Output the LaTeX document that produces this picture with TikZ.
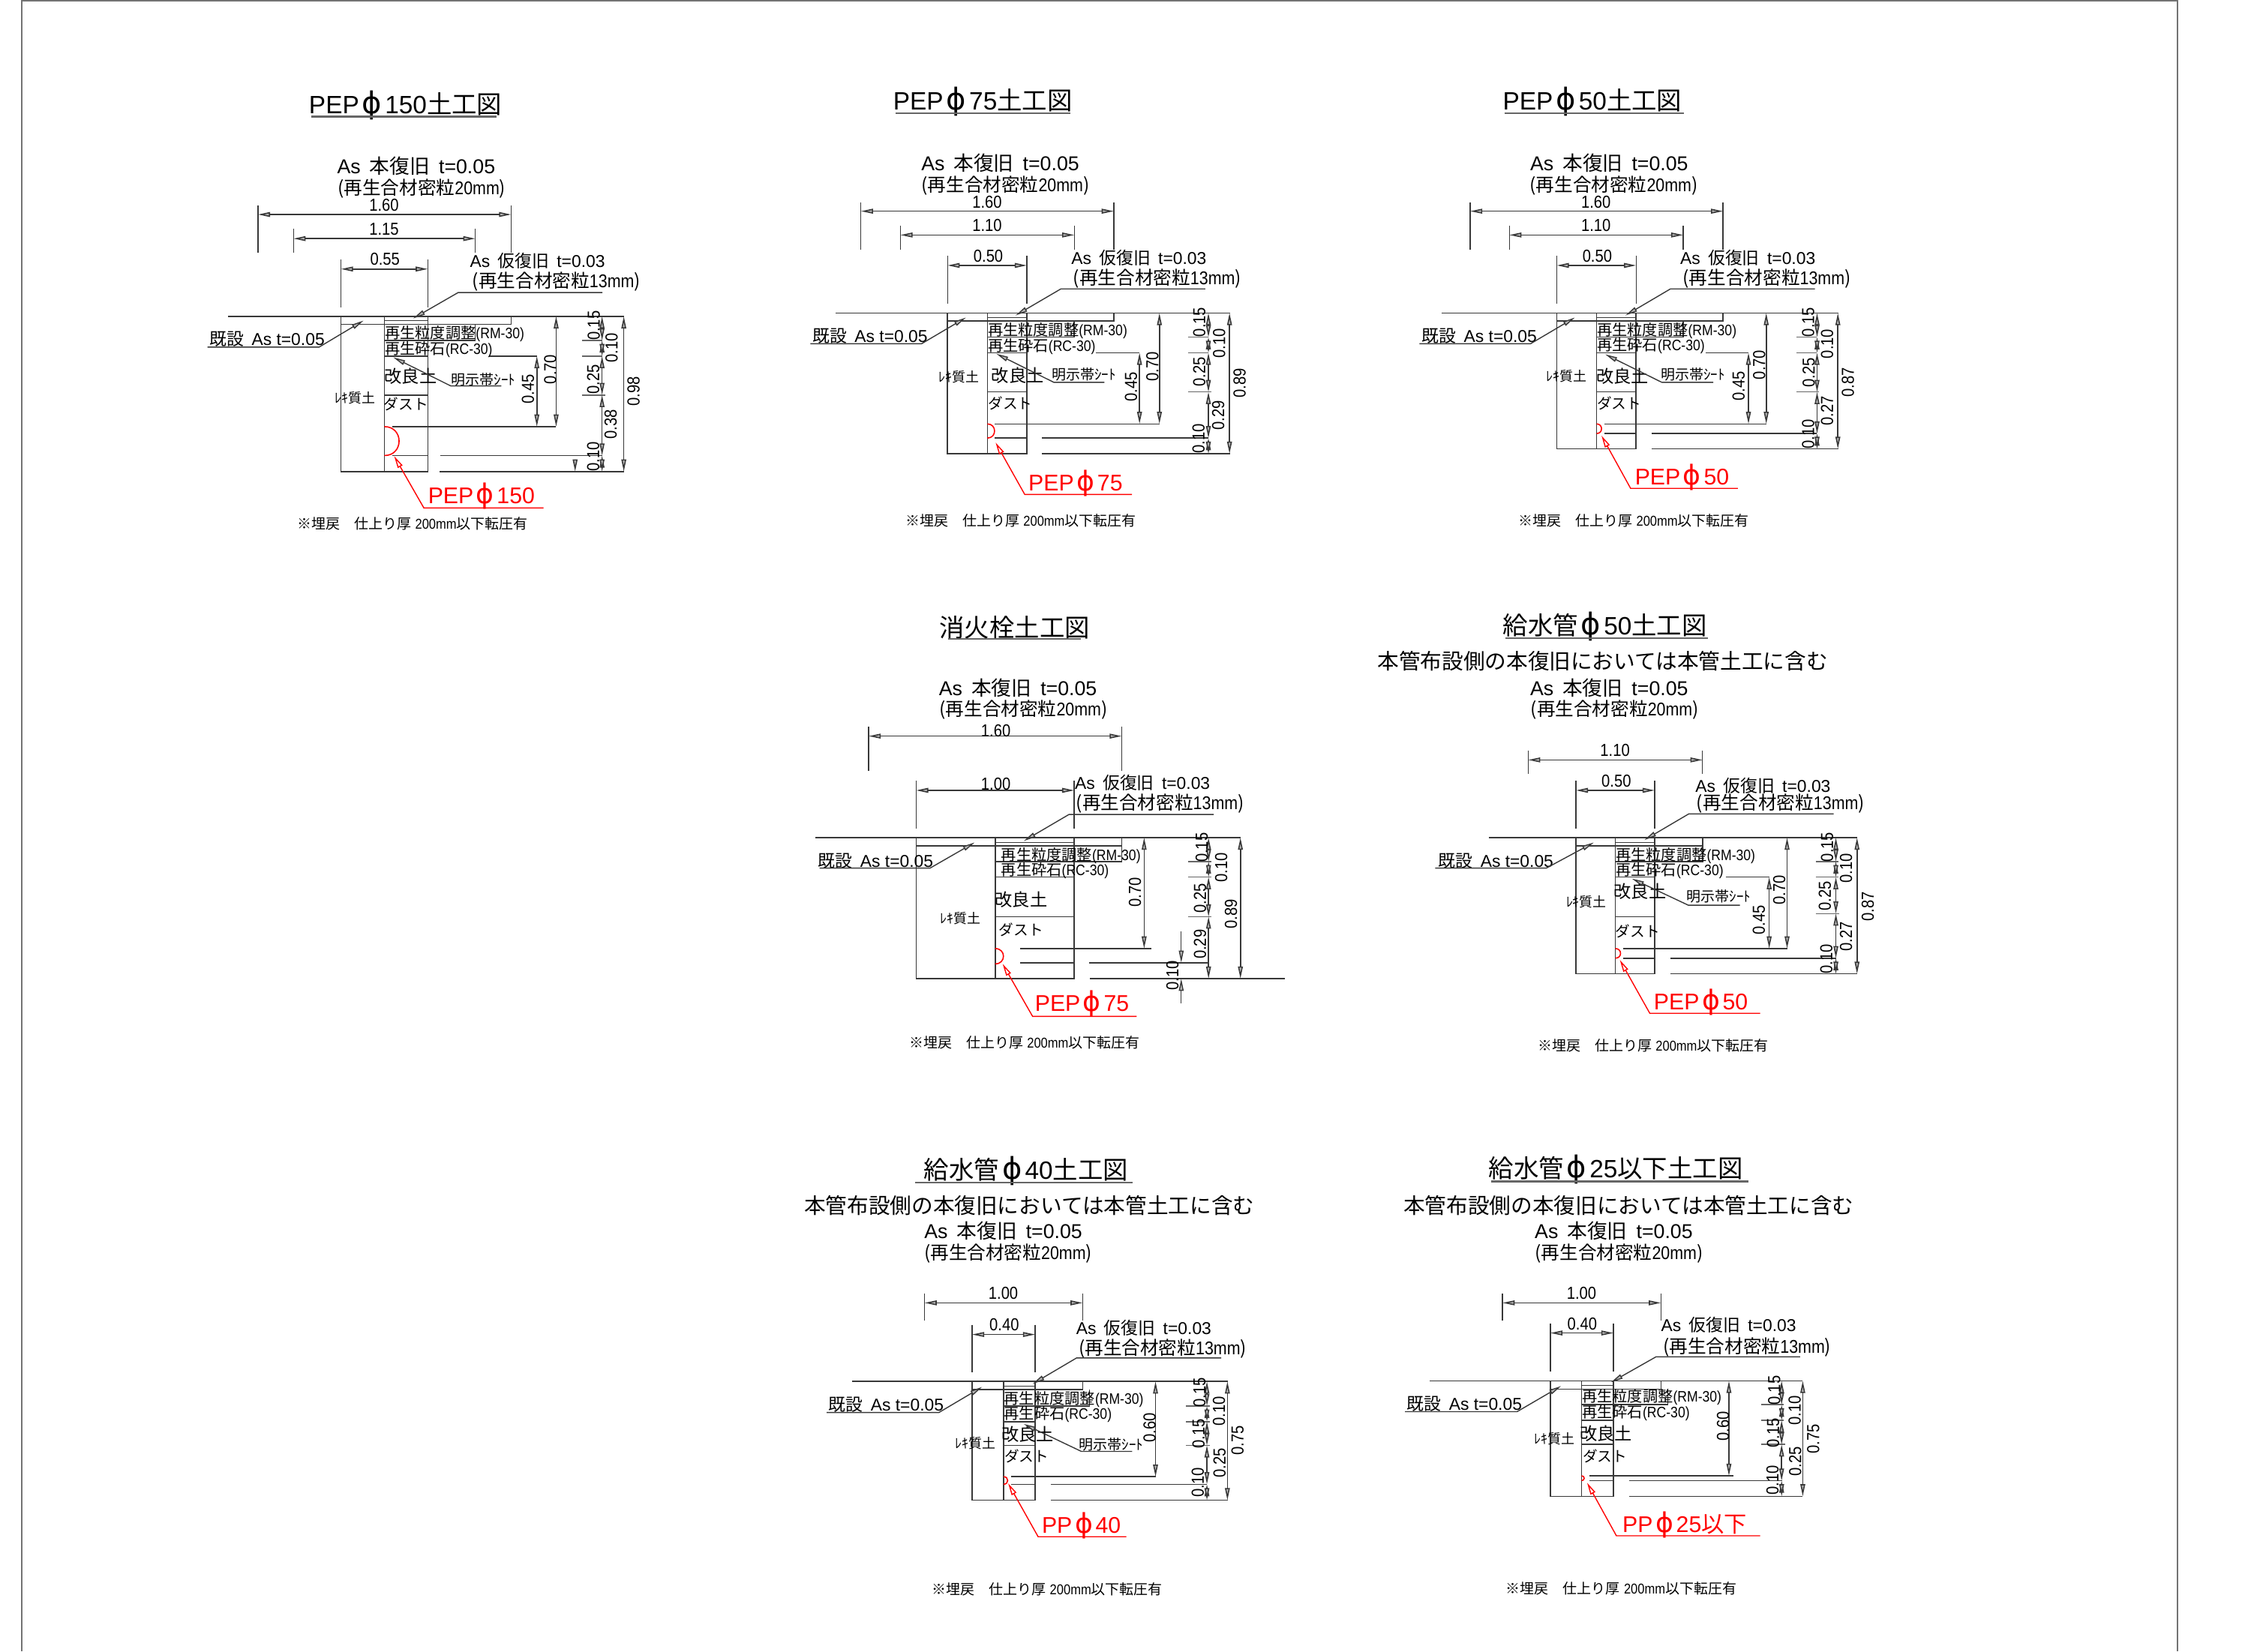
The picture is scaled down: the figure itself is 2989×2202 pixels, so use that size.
\documentclass[tikz,border=0pt]{standalone}
\usepackage{fontspec}
\setmainfont{Liberation Sans}
\newfontfamily\cjk{Noto Sans CJK JP}
\newfontfamily\dimfont[FakeStretch=0.87]{Liberation Sans}
\newfontfamily\diafont{DejaVu Sans}
\usetikzlibrary{arrows.meta}
\newcommand{\fs}[1]{\fontsize{#1}{#1}\selectfont}
\tikzset{
  dimtip/.tip = {Triangle[length=4.6pt,width=1.8pt,fill=gray!55]},
  redtip/.tip = {Triangle[length=4.6pt,width=2pt,fill=white]},
  soil/.style = {line width=.45pt, black!78},
  tickline/.style = {line width=.45pt, black!60},
  dimline/.style = {dimtip-dimtip, line width=.45pt, black!78},
  extline/.style = {line width=.4pt, black!78},
  leaderline/.style = {-dimtip, line width=.4pt, black!78},
  redleader/.style = {-redtip, line width=.4pt, red},
  pipeline/.style = {line width=.45pt, red},
  txt/.style = {inner sep=0pt, black},
  dimlabel/.style = {txt, font=\dimfont\fs{6.6}},
  vlabel/.style = {dimlabel, rotate=90},
  titlelabel/.style = {txt, font=\fs{9.5}},
  sublabel/.style = {txt, font=\fs{8.15}},
  mainlabel/.style = {txt, font=\fs{7.6}},
  mixlabel/.style = {txt, font=\fs{7}},
  pavelabel/.style = {txt, font=\fs{6.5}},
  layerlabel/.style = {txt, anchor=west, font=\fs{5.75}},
  soillabel/.style = {txt, font=\fs{6.6}},
  dustlabel/.style = {txt, font=\fs{5.6}},
  gravellabel/.style = {txt, font=\fs{5.1}},
  sheetlabel/.style = {txt, anchor=west, font=\fs{5.4}},
  notelabel/.style = {txt, font=\fs{5.4}},
  pipelabel/.style = {txt, text=red, font=\fs{8.6}}
}
\newcommand{\hdim}[9]{% name, y, x1, x2, top, bottom, text, label x, label y
  \draw[dimline] (#3,#2) -- (#4,#2);
  \draw[extline] (#3,#5) -- (#3,#6) (#4,#5) -- (#4,#6);
  \node[dimlabel] (#1) at (#8,#9) {#7};
}
\newcommand{\vdim}[7]{% name, x, y1, y2, text, label x, label y
  \draw[dimline] (#2,#3) -- (#2,#4);
  \node[vlabel] (#1) at (#6,#7) {#5};
}
\newcommand{\halfpipe}[3]{\draw[pipeline] (#1,#2) .. controls ({#1+0.667*(#3-#2)},#2) and ({#1+0.667*(#3-#2)},#3) .. (#1,#3);}
\newcommand{\dia}{\hspace{.12em}\scalebox{1.2}{\diafont ϕ}\hspace{.12em}}
\newcommand{\txtHon}{As\hspace{.45em}{\cjk 本復旧}\hspace{.45em}t=0.05}
\newcommand{\txtKari}{As\hspace{.45em}{\cjk 仮復旧}\hspace{.45em}t=0.03}
\newcommand{\txtKisetsu}{{\cjk 既設}\hspace{.45em}As t=0.05}
\newcommand{\txtMix}[1]{{\cjk (再生合材密粒}{\dimfont #1mm}{\cjk )}}
\newcommand{\txtRM}{{\cjk 再生粒度調整}{\dimfont (RM-30)}}
\newcommand{\txtRC}{{\cjk 再生砕石}{\dimfont (RC-30)}}
\newcommand{\txtSub}{{\cjk 本管布設側の本復旧においては本管土工に含む}}
\newcommand{\txtNote}{{\cjk ※埋戻\hspace{1em}仕上り厚} {\dimfont 200mm}{\cjk 以下転圧有}}
\begin{document}
\begin{tikzpicture}[x=0.01cm,y=-0.01cm]
\useasboundingbox (0,0) rectangle (2989,2202);
\draw[line width=.6pt, black!55] (29,2202) -- (29,1) -- (2903,1) -- (2903,2202);

% PEP 150
\begin{scope}[shift={(250,100)},xscale=0.40816,yscale=0.40179,name prefix=pa-]
\node[titlelabel] (title) at (712,100) {PEP\dia 150{\cjk 土工図}};
\draw[soil,black!60,line width=.7pt] (405,138) -- (1010,138);
\node[mainlabel] (hon) at (747,303) {\txtHon};
\node[mixlabel] (honmix) at (765,377) {\txtMix{20}};
\hdim{w160}{463}{230}{1057}{433}{590}{1.60}{642}{432}
\hdim{w115}{543}{346}{940}{510}{590}{1.15}{642}{512}
\hdim{w055}{644}{501}{785}{612}{772}{0.55}{645}{612}
\node[pavelabel] (kari) at (1143,616) {\txtKari};
\node[mixlabel] (karimix) at (1205,687) {\txtMix{13}};
\draw[leaderline] (1355,722) -- (884,722) -- (737,808);
\draw[soil] (133,801) -- (1425,801);
\draw[soil] (501,801) -- (501,1316) -- (785,1316) -- (785,801) (643,801) -- (643,1316) (823,1316) -- (1425,1316);
\draw[soil] (501,827) -- (1057,827) -- (1057,801) (643,815) -- (785,815);
\node[pavelabel] (kisetsu) at (260,877) {\txtKisetsu};
\draw[leaderline] (65,903) -- (430,903) -- (575,815);
\draw[soil] (643,881) -- (940,881) -- (940,827) (643,933) -- (785,933) (985,933) -- (1141,933) (643,1062) -- (785,1062);
\draw[tickline] (1288,881) -- (1354,881) (1288,933) -- (1354,933) (1288,1062) -- (1365,1062);
\node[layerlabel] (rm) at (643,858) {\txtRM};
\node[layerlabel] (rc) at (643,910) {\txtRC};
\node[soillabel] (kairyo) at (729,1000) {{\cjk 改良土}};
\node[dustlabel] (dust) at (714,1092) {{\cjk ダスト}};
\node[gravellabel] (gravel) at (548,1072) {{\cjk ﾚｷ質土}};
\node[sheetlabel] (sheet) at (860,1012) {{\cjk 明示帯ｼｰﾄ}};
\draw[leaderline] (1025,1032) -- (860,1032) -- (672,937);
\draw[soil] (668,1167) -- (1204,1167) (668,1263) -- (785,1263) (825,1263) -- (1354,1263);
\halfpipe{643}{1167}{1263}
\draw[redleader] (1163,1437) -- (772,1437) -- (675,1265);
\node[pipelabel] (pipe) at (960,1398) {PEP\dia 150};
\node[notelabel] (note) at (735,1490) {\txtNote};
\vdim{d070}{1204}{801}{1167}{0.70}{1185}{977}
\vdim{d045}{1141}{933}{1167}{0.45}{1112}{1042}
\vdim{d015}{1354}{801}{881}{0.15}{1327}{832}
\vdim{d010}{1354}{881}{933}{0.10}{1385}{905}
\vdim{d025}{1354}{933}{1062}{0.25}{1325}{1010}
\vdim{d038}{1354}{1062}{1263}{0.38}{1382}{1160}
\vdim{e010}{1354}{1263}{1316}{0.10}{1325}{1266}
\vdim{d098}{1425}{801}{1316}{0.98}{1457}{1050}
\draw[-dimtip,soil] (1266,1276) -- (1266,1316);
\end{scope}

% PEP 75
\begin{scope}[shift={(1060,100)},xscale=0.40816,yscale=0.40179,name prefix=pb-]
\node[titlelabel] (title) at (613,87) {PEP\dia 75{\cjk 土工図}};
\draw[soil,black!60,line width=.7pt] (328,127) -- (898,127);
\node[mainlabel] (hon) at (670,293) {\txtHon};
\node[mixlabel] (honmix) at (687,367) {\txtMix{20}};
\hdim{w160}{452}{215}{1041}{422}{580}{1.60}{627}{421}
\hdim{w110}{531}{344}{912}{500}{580}{1.10}{627}{498}
\hdim{w050}{632}{498}{757}{600}{760}{0.50}{631}{600}
\node[pavelabel] (kari) at (1123,606) {\txtKari};
\node[mixlabel] (karimix) at (1183,677) {\txtMix{13}};
\draw[leaderline] (1340,710) -- (868,710) -- (720,798);
\draw[soil] (132,790) -- (1420,790);
\draw[soil] (498,790) -- (498,1257) -- (757,1257) -- (757,790) (628,790) -- (628,1257) (807,1257) -- (1420,1257);
\draw[soil] (498,817) -- (1041,817) -- (1041,790) (628,805) -- (757,805);
\node[pavelabel] (kisetsu) at (245,866) {\txtKisetsu};
\draw[leaderline] (50,892) -- (413,892) -- (558,805);
\draw[soil] (628,870) -- (912,870) -- (912,817) (628,922) -- (757,922) (982,922) -- (1125,922) (628,1052) -- (757,1052);
\draw[tickline] (1283,870) -- (1350,870) (1283,922) -- (1350,922) (1283,1052) -- (1360,1052);
\node[layerlabel] (rm) at (628,850) {\txtRM};
\node[layerlabel] (rc) at (628,900) {\txtRC};
\node[soillabel] (kairyo) at (727,997) {{\cjk 改良土}};
\node[dustlabel] (dust) at (703,1090) {{\cjk ダスト}};
\node[gravellabel] (gravel) at (535,1003) {{\cjk ﾚｷ質土}};
\node[sheetlabel] (sheet) at (837,993) {{\cjk 明示帯ｼｰﾄ}};
\draw[leaderline] (1010,1020) -- (845,1020) -- (657,925);
\draw[soil] (652,1158) -- (1190,1158) (652,1205) -- (757,1205) (807,1205) -- (1350,1205);
\halfpipe{628}{1158}{1205}
\draw[redleader] (1100,1392) -- (750,1392) -- (655,1220);
\node[pipelabel] (pipe) at (916,1355) {PEP\dia 75};
\node[notelabel] (note) at (737,1478) {\txtNote};
\vdim{d070}{1190}{790}{1158}{0.70}{1167}{968}
\vdim{d045}{1125}{922}{1158}{0.45}{1097}{1035}
\vdim{d015}{1350}{790}{870}{0.15}{1320}{820}
\vdim{d010}{1350}{870}{922}{0.10}{1385}{890}
\vdim{d025}{1350}{922}{1052}{0.25}{1320}{985}
\vdim{d029}{1350}{1052}{1205}{0.29}{1382}{1130}
\vdim{e010}{1350}{1205}{1257}{0.10}{1318}{1207}
\vdim{d089}{1419}{790}{1257}{0.89}{1452}{1022}
\end{scope}

% PEP 50
\begin{scope}[shift={(1880,100)},xscale=0.40816,yscale=0.40179,name prefix=pc-]
\node[titlelabel] (title) at (595,87) {PEP\dia 50{\cjk 土工図}};
\draw[soil,black!60,line width=.7pt] (308,127) -- (895,127);
\node[mainlabel] (hon) at (650,293) {\txtHon};
\node[mixlabel] (honmix) at (665,367) {\txtMix{20}};
\hdim{w160}{452}{196}{1022}{422}{580}{1.60}{607}{421}
\hdim{w110}{531}{324}{892}{500}{580}{1.10}{607}{498}
\hdim{w050}{632}{479}{738}{600}{760}{0.50}{611}{600}
\node[pavelabel] (kari) at (1103,606) {\txtKari};
\node[mixlabel] (karimix) at (1165,677) {\txtMix{13}};
\draw[leaderline] (1322,710) -- (850,710) -- (703,798);
\draw[soil] (102,790) -- (1398,790);
\draw[soil] (479,790) -- (479,1241) -- (738,1241) -- (738,790) (609,790) -- (609,1241) (790,1241) -- (1398,1241);
\draw[soil] (479,817) -- (1022,817) -- (1022,790) (609,805) -- (738,805);
\node[pavelabel] (kisetsu) at (226,866) {\txtKisetsu};
\draw[leaderline] (30,892) -- (393,892) -- (538,805);
\draw[soil] (609,870) -- (892,870) -- (892,817) (609,922) -- (738,922) (965,922) -- (1105,922) (609,1052) -- (738,1052);
\draw[tickline] (1262,870) -- (1329,870) (1262,922) -- (1329,922) (1262,1052) -- (1335,1052);
\node[layerlabel] (rm) at (609,850) {\txtRM};
\node[layerlabel] (rc) at (609,898) {\txtRC};
\node[soillabel] (kairyo) at (693,1000) {{\cjk 改良土}};
\node[dustlabel] (dust) at (683,1090) {{\cjk ダスト}};
\node[gravellabel] (gravel) at (510,1000) {{\cjk ﾚｷ質土}};
\node[sheetlabel] (sheet) at (817,993) {{\cjk 明示帯ｼｰﾄ}};
\draw[leaderline] (990,1020) -- (822,1020) -- (637,927);
\draw[soil] (634,1158) -- (1163,1158) (634,1190) -- (738,1190) (790,1190) -- (1329,1190);
\halfpipe{609}{1158}{1190}
\draw[redleader] (1070,1372) -- (720,1372) -- (625,1197);
\node[pipelabel] (pipe) at (888,1335) {PEP\dia 50};
\node[notelabel] (note) at (730,1478) {\txtNote};
\vdim{d070}{1163}{790}{1158}{0.70}{1140}{962}
\vdim{d045}{1105}{922}{1158}{0.45}{1073}{1032}
\vdim{d015}{1329}{790}{870}{0.15}{1300}{820}
\vdim{d010}{1329}{870}{922}{0.10}{1362}{892}
\vdim{d025}{1329}{922}{1052}{0.25}{1302}{988}
\vdim{d027}{1329}{1052}{1190}{0.27}{1362}{1115}
\vdim{e010}{1329}{1190}{1241}{0.10}{1300}{1192}
\vdim{d087}{1397}{790}{1241}{0.87}{1430}{1020}
\end{scope}

% hydrant
\begin{scope}[shift={(1060,800)},xscale=0.43367,yscale=0.40179,name prefix=pd-]
\node[titlelabel] (title) at (675,92) {{\cjk 消火栓土工図}};
\draw[soil,black!60,line width=.7pt] (470,130) -- (878,130);
\node[mainlabel] (hon) at (685,293) {\txtHon};
\node[mixlabel] (honmix) at (702,365) {\txtMix{20}};
\hdim{w160}{452}{226}{1004}{420}{568}{1.60}{617}{435}
\hdim{w100}{632}{372}{858}{600}{758}{1.00}{617}{612}
\node[pavelabel] (kari) at (1068,606) {\txtKari};
\node[mixlabel] (karimix) at (1122,677) {\txtMix{13}};
\draw[leaderline] (1287,712) -- (842,712) -- (703,800);
\draw[soil] (63,789) -- (1370,789);
\draw[soil] (372,789) -- (372,1257) -- (858,1257) -- (858,789) (615,789) -- (615,1257) (907,1257) -- (1505,1257);
\draw[soil] (372,816) -- (1004,816) -- (1004,789) (615,805) -- (858,805);
\node[pavelabel] (kisetsu) at (248,866) {\txtKisetsu};
\draw[leaderline] (75,890) -- (415,890) -- (552,805);
\draw[soil] (615,868) -- (1004,868) -- (1004,816) (615,920) -- (858,920) (615,1051) -- (858,1051);
\draw[tickline] (1208,868) -- (1280,868) (1208,920) -- (1280,920) (1208,1051) -- (1280,1051);
\node[layerlabel] (rm) at (632,850) {\txtRM};
\node[layerlabel] (rc) at (632,898) {\txtRC};
\node[soillabel] (kairyo) at (695,995) {{\cjk 改良土}};
\node[dustlabel] (dust) at (695,1095) {{\cjk ダスト}};
\node[gravellabel] (gravel) at (508,1058) {{\cjk ﾚｷ質土}};
\draw[soil] (692,1157) -- (1095,1157) (692,1204) -- (858,1204) (903,1204) -- (1271,1204);
\halfpipe{615}{1157}{1208}
\draw[redleader] (1050,1382) -- (730,1382) -- (638,1208);
\node[pipelabel] (pipe) at (882,1340) {PEP\dia 75};
\node[notelabel] (note) at (705,1470) {\txtNote};
\vdim{d070}{1073}{789}{1157}{0.70}{1045}{970}
\vdim{d015}{1271}{789}{868}{0.15}{1250}{822}
\vdim{d010}{1271}{868}{920}{0.10}{1310}{888}
\vdim{d025}{1271}{920}{1051}{0.25}{1245}{990}
\vdim{d029}{1271}{1051}{1257}{0.29}{1245}{1143}
\vdim{d089}{1369}{789}{1257}{0.89}{1340}{1042}
\draw[-dimtip,extline] (1187,1100) -- (1187,1204);
\draw[-dimtip,extline] (1187,1340) -- (1187,1257);
\node[vlabel] (e010) at (1160,1247) {0.10};
\end{scope}

% water pipe 50
\begin{scope}[shift={(1820,800)},xscale=0.43367,yscale=0.40179,name prefix=pe-]
\node[titlelabel] (title) at (737,88) {{\cjk 給水管}\dia 50{\cjk 土工図}};
\draw[soil,black!60,line width=.7pt] (430,127) -- (1053,127);
\node[sublabel] (sub) at (730,203) {\txtSub};
\node[mainlabel] (hon) at (750,293) {\txtHon};
\node[mixlabel] (honmix) at (767,365) {\txtMix{20}};
\hdim{w110}{531}{501}{1037}{500}{578}{1.10}{768}{498}
\hdim{w050}{632}{648}{890}{600}{758}{0.50}{772}{602}
\node[pavelabel] (kari) at (1223,617) {\txtKari};
\node[mixlabel] (karimix) at (1277,675) {\txtMix{13}};
\draw[leaderline] (1440,710) -- (995,710) -- (858,797);
\draw[soil] (380,789) -- (1512,789);
\draw[soil] (648,789) -- (648,1241) -- (890,1241) -- (890,789) (769,789) -- (769,1241) (938,1241) -- (1512,1241);
\draw[soil] (648,816) -- (1037,816) -- (1037,789) (769,805) -- (890,805);
\node[pavelabel] (kisetsu) at (402,866) {\txtKisetsu};
\draw[leaderline] (215,890) -- (557,890) -- (703,805);
\draw[soil] (769,868) -- (1037,868) -- (1037,816) (769,920) -- (890,920) (1108,920) -- (1243,920) (769,1051) -- (890,1051);
\draw[tickline] (1385,868) -- (1455,868) (1385,920) -- (1455,920) (1385,1041) -- (1458,1041);
\node[layerlabel] (rm) at (769,850) {\txtRM};
\node[layerlabel] (rc) at (769,898) {\txtRC};
\node[soillabel] (kairyo) at (845,968) {{\cjk 改良土}};
\node[dustlabel] (dust) at (838,1100) {{\cjk ダスト}};
\node[gravellabel] (gravel) at (680,1003) {{\cjk ﾚｷ質土}};
\node[sheetlabel] (sheet) at (987,985) {{\cjk 明示帯ｼｰﾄ}};
\draw[leaderline] (1152,1013) -- (993,1013) -- (820,925);
\draw[soil] (793,1157) -- (1297,1157) (793,1189) -- (890,1189) (938,1189) -- (1447,1189);
\halfpipe{769}{1157}{1189}
\draw[redleader] (1214,1372) -- (875,1372) -- (783,1195);
\node[pipelabel] (pipe) at (1032,1335) {PEP\dia 50};
\node[notelabel] (note) at (885,1478) {\txtNote};
\vdim{d070}{1297}{789}{1157}{0.70}{1273}{963}
\vdim{d045}{1242}{920}{1157}{0.45}{1210}{1063}
\vdim{d015}{1447}{789}{868}{0.15}{1420}{820}
\vdim{d010}{1447}{868}{920}{0.10}{1478}{890}
\vdim{d025}{1447}{920}{1041}{0.25}{1413}{982}
\vdim{d027}{1447}{1041}{1189}{0.27}{1478}{1117}
\vdim{e010}{1447}{1189}{1241}{0.10}{1418}{1192}
\vdim{d087}{1512}{789}{1241}{0.87}{1545}{1018}
\end{scope}

% water pipe 40
\begin{scope}[shift={(1060,1520)},xscale=0.43367,yscale=0.40179,name prefix=pf-]
\node[titlelabel] (title) at (710,103) {{\cjk 給水管}\dia 40{\cjk 土工図}};
\draw[soil,black!60,line width=.7pt] (370,142) -- (1038,142);
\node[sublabel] (sub) at (720,217) {\txtSub};
\node[mainlabel] (hon) at (640,303) {\txtHon};
\node[mixlabel] (honmix) at (655,377) {\txtMix{20}};
\hdim{w100}{541}{398}{884}{510}{600}{1.00}{640}{510}
\hdim{w040}{646}{544}{738}{614}{772}{0.40}{643}{614}
\node[pavelabel] (kari) at (1072,624) {\txtKari};
\node[mixlabel] (karimix) at (1130,692) {\txtMix{13}};
\draw[leaderline] (1310,724) -- (865,724) -- (730,810);
\draw[soil] (175,802) -- (1330,802);
\draw[soil] (544,802) -- (544,1196) -- (738,1196) -- (738,802) (641,802) -- (641,1196) (786,1196) -- (1330,1196);
\draw[soil] (544,829) -- (884,829) -- (884,802) (641,817) -- (738,817);
\node[pavelabel] (kisetsu) at (280,880) {\txtKisetsu};
\draw[leaderline] (97,905) -- (442,905) -- (575,820);
\draw[soil] (641,883) -- (905,883) -- (905,829) (641,935) -- (738,935) (641,1014) -- (738,1014);
\draw[tickline] (1202,883) -- (1275,883) (1202,935) -- (1275,935) (1202,1014) -- (1275,1014);
\node[layerlabel] (rm) at (641,862) {\txtRM};
\node[layerlabel] (rc) at (641,912) {\txtRC};
\node[soillabel] (kairyo) at (715,977) {{\cjk 改良土}};
\node[dustlabel] (dust) at (712,1050) {{\cjk ダスト}};
\node[gravellabel] (gravel) at (555,1007) {{\cjk ﾚｷ質土}};
\node[sheetlabel] (sheet) at (872,1010) {{\cjk 明示帯ｼｰﾄ}};
\draw[leaderline] (1036,1034) -- (880,1034) -- (703,943);
\draw[soil] (665,1118) -- (1108,1118) (665,1143) -- (738,1143) (786,1143) -- (1266,1143);
\halfpipe{641}{1118}{1143}
\draw[redleader] (1018,1317) -- (747,1317) -- (655,1140);
\node[pipelabel] (pipe) at (880,1280) {PP\dia 40};
\node[notelabel] (note) at (775,1492) {\txtNote};
\vdim{d060}{1108}{802}{1118}{0.60}{1090}{955}
\vdim{d015}{1266}{802}{883}{0.15}{1243}{838}
\vdim{d010}{1266}{883}{935}{0.10}{1303}{900}
\vdim{e015}{1266}{935}{1014}{0.15}{1240}{975}
\vdim{d025}{1266}{1014}{1143}{0.25}{1305}{1072}
\vdim{e010}{1266}{1143}{1196}{0.10}{1238}{1137}
\vdim{d075}{1329}{802}{1196}{0.75}{1360}{997}
\end{scope}

% water pipe 25
\begin{scope}[shift={(1860,1520)},xscale=0.43367,yscale=0.40179,name prefix=pg-]
\node[titlelabel] (title) at (678,97) {{\cjk 給水管}\dia 25{\cjk 以下土工図}};
\draw[soil,black!60,line width=.7pt] (295,138) -- (1087,138);
\node[sublabel] (sub) at (718,217) {\txtSub};
\node[mainlabel] (hon) at (672,303) {\txtHon};
\node[mixlabel] (honmix) at (688,377) {\txtMix{20}};
\hdim{w100}{541}{330}{817}{510}{600}{1.00}{573}{510}
\hdim{w040}{641}{477}{671}{610}{768}{0.40}{575}{612}
\node[pavelabel] (kari) at (1025,613) {\txtKari};
\node[mixlabel] (karimix) at (1082,687) {\txtMix{13}};
\draw[leaderline] (1245,720) -- (802,720) -- (663,805);
\draw[soil] (107,800) -- (1253,800);
\draw[soil] (477,800) -- (477,1183) -- (671,1183) -- (671,800) (573,800) -- (573,1183) (719,1183) -- (1253,1183);
\draw[soil] (477,827) -- (817,827) -- (817,800) (573,815) -- (671,815);
\node[pavelabel] (kisetsu) at (213,877) {\txtKisetsu};
\draw[leaderline] (30,902) -- (375,902) -- (510,817);
\draw[soil] (573,879) -- (838,879) -- (838,827) (573,931) -- (671,931) (573,1011) -- (671,1011);
\draw[tickline] (1125,879) -- (1195,879) (1125,931) -- (1195,931) (1125,1011) -- (1198,1011);
\node[layerlabel] (rm) at (573,855) {\txtRM};
\node[layerlabel] (rc) at (573,907) {\txtRC};
\node[soillabel] (kairyo) at (648,975) {{\cjk 改良土}};
\node[dustlabel] (dust) at (645,1050) {{\cjk ダスト}};
\node[gravellabel] (gravel) at (490,993) {{\cjk ﾚｷ質土}};
\draw[soil] (597,1115) -- (1040,1115) (597,1131) -- (671,1131) (719,1131) -- (1190,1131);
\halfpipe{573}{1115}{1131}
\draw[redleader] (1122,1314) -- (680,1314) -- (590,1138);
\node[pipelabel] (pipe) at (890,1278) {PP\dia 25{\cjk 以下}};
\node[notelabel] (note) at (695,1490) {\txtNote};
\vdim{d060}{1026}{800}{1115}{0.60}{1008}{950}
\vdim{d015}{1188}{800}{879}{0.15}{1165}{832}
\vdim{d010}{1188}{879}{931}{0.10}{1228}{898}
\vdim{e015}{1188}{931}{1011}{0.15}{1162}{972}
\vdim{d025}{1188}{1011}{1131}{0.25}{1230}{1068}
\vdim{e010}{1188}{1131}{1183}{0.10}{1160}{1130}
\vdim{d075}{1253}{800}{1183}{0.75}{1285}{993}
\end{scope}
\end{tikzpicture}
\end{document}
